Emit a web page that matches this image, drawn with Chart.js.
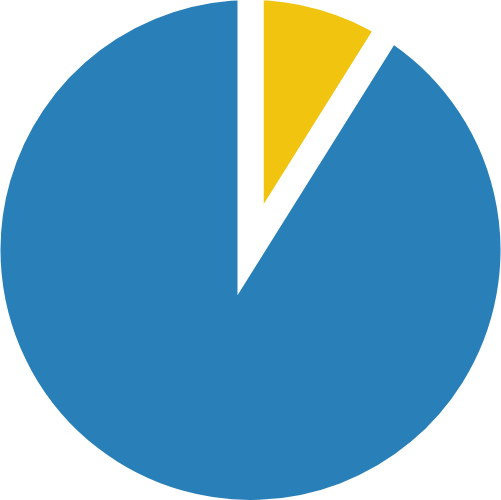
<!DOCTYPE html>
<html>
<head>
<meta charset="utf-8">
<script src="https://cdn.jsdelivr.net/npm/chart.js@4/dist/chart.umd.min.js"></script>
<style>
  html, body { margin: 0; padding: 0; background: #fff; }
  #wrap { width: 501px; height: 500px; }
</style>
</head>
<body>
<div id="wrap"><canvas id="myChart"></canvas></div>
<script>
// slices, clockwise from the top
var labels = ["yellow", "blue"];
var values = [8.9, 91.1];
var colors = ["#F1C40F", "#2980B9"];

var pie_chart = document.getElementById("myChart");

var pieChart = new Chart(pie_chart, {
  type: 'pie',
  data: {
    labels: labels,
    datasets: [
      {
        data: values,
        backgroundColor: colors,
        borderColor: '#ffffff',
        borderWidth: 26,
        borderJoinStyle: 'miter'
      }
    ]
  },
  options: {
    responsive: true,
    maintainAspectRatio: false,
    animation: false,
    // pie fills the whole canvas, the thick white border eats the outer edge
    radius: 263,
    plugins: {
      legend: { display: false },
      tooltip: { enabled: false }
    }
  }
});
</script>
</body>
</html>
